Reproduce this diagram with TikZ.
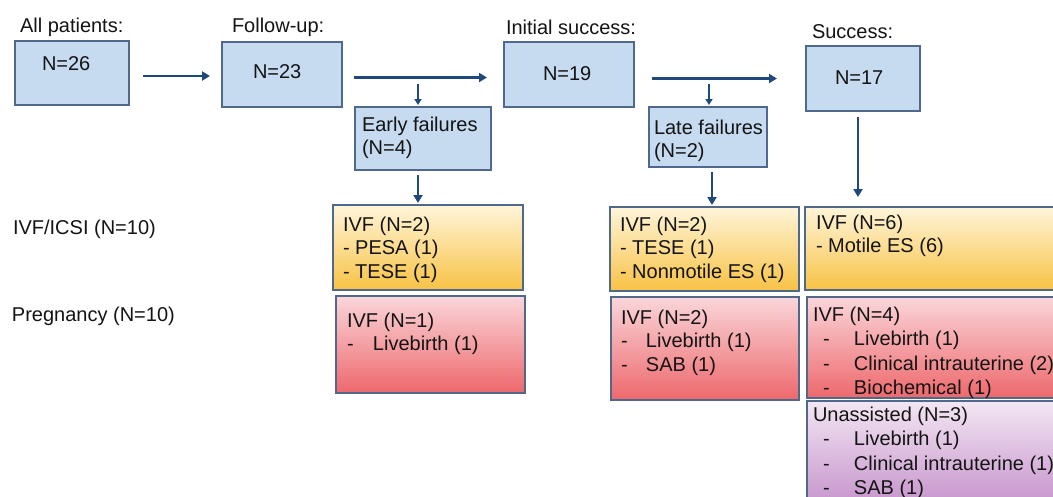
\documentclass[tikz,border=0pt]{standalone}
\usepackage{fontspec}
\setmainfont{Liberation Sans}
\usetikzlibrary{calc,arrows.meta}
\definecolor{bluef}{RGB}{198,218,240}
\definecolor{bordc}{RGB}{80,104,140}
\definecolor{arrc}{RGB}{31,73,125}
\definecolor{txtc}{RGB}{20,20,20}
\definecolor{ytop}{RGB}{255,245,218}
\definecolor{ymid}{RGB}{253,228,160}
\definecolor{ybot}{RGB}{248,194,68}
\definecolor{rtop}{RGB}{250,214,218}
\definecolor{rmid}{RGB}{245,170,175}
\definecolor{rbot}{RGB}{237,104,108}
\definecolor{ptop}{RGB}{243,230,243}
\definecolor{pmid}{RGB}{225,195,226}
\definecolor{pbot}{RGB}{198,148,204}
\newcommand{\dsh}[1]{\makebox[#1][l]{-}}
\begin{document}
\begin{tikzpicture}[x=1pt,y=-1pt,
  box/.style={draw=bordc, line width=1.4pt, anchor=north west, inner sep=0pt, outer sep=0pt},
  bluebox/.style={box, fill=bluef},
  ybox/.style={box, top color=ytop, middle color=ymid, bottom color=ybot},
  rbox/.style={box, top color=rtop, middle color=rmid, bottom color=rbot},
  pbox/.style={box, top color=ptop, middle color=pmid, bottom color=pbot},
  txt/.style={anchor=north west, inner sep=0pt, outer sep=0pt, align=left, text=txtc,
    font=\fontsize{20}{23.5}\selectfont},
  txtb/.style={txt, font=\fontsize{20}{24.5}\selectfont},
  arr/.style={draw=arrc, line width=2.6pt, -{Triangle[length=8pt,width=9pt]}},
  sarr/.style={draw=arrc, line width=2pt, -{Triangle[length=6pt,width=7pt]}},
]
\clip (0,0) rectangle (1053,496);
\fill[white] (0,0) rectangle (1053,496);

% headings
\node[txt] (hall) at (20,18) {All patients:};
\node[txt] (hfu) at (232,18) {Follow-up:};
\node[txt] (his) at (506,20) {Initial success:};
\node[txt] (hs) at (812,25) {Success:};

% blue boxes
\node[bluebox, minimum width=114pt, minimum height=64pt] (b26) at (15,41) {};
\node[bluebox, minimum width=120pt, minimum height=65pt] (b23) at (222,42) {};
\node[bluebox, minimum width=130pt, minimum height=65pt] (b19) at (504,42) {};
\node[bluebox, minimum width=114pt, minimum height=65pt] (b17) at (806,46) {};
\node[bluebox, minimum width=136pt, minimum height=63pt] (bef) at (355,107) {};
\node[bluebox, minimum width=118pt, minimum height=60pt] (blf) at (649,107) {};

\node[txt] (t26) at (42,57) {N=26};
\node[txt] (t23) at (253,65) {N=23};
\node[txt] (t19) at (543,67) {N=19};
\node[txt] (t17) at (835,71) {N=17};
\node[txt] (tef) at (362,117) {Early failures\\(N=4)};
\node[txt] (tlf) at (654,120) {Late failures\\(N=2)};

% row labels
\node[txt] (livf) at (13,220) {IVF/ICSI (N=10)};
\node[txt] (lpreg) at (12,307) {Pregnancy (N=10)};

% yellow boxes
\node[ybox, minimum width=190pt, minimum height=85pt] (y1) at (333,205) {};
\node[ybox, minimum width=189pt, minimum height=84pt] (y2) at (610,207) {};
\node[ybox, minimum width=260pt, minimum height=83pt] (y3) at (805,207) {};
\node[txt] (ty1) at (343,217) {IVF (N=2)\\- PESA (1)\\- TESE (1)};
\node[txt] (ty2) at (620,217) {IVF (N=2)\\- TESE (1)\\- Nonmotile ES (1)};
\node[txt] (ty3) at (816,215) {IVF (N=6)\\- Motile ES (6)};

% red boxes
\node[rbox, minimum width=189pt, minimum height=97pt] (r1) at (336,296) {};
\node[rbox, minimum width=188pt, minimum height=103pt] (r2) at (611,297) {};
\node[rbox, minimum width=258pt, minimum height=101pt] (r3) at (807,297) {};
\node[txt] (tr1) at (347,313) {IVF (N=1)\\\dsh{26pt}Livebirth (1)};
\node[txt] (tr2) at (621,310) {IVF (N=2)\\\dsh{25pt}Livebirth (1)\\\dsh{25pt}SAB (1)};
\node[txtb] (tr3) at (813,307) {IVF (N=4)\\\hspace*{10pt}\dsh{31pt}Livebirth (1)\\\hspace*{10pt}\dsh{31pt}Clinical intrauterine (2)\\\hspace*{10pt}\dsh{31pt}Biochemical (1)};

% purple box
\node[pbox, minimum width=258pt, minimum height=104pt] (p1) at (807,401) {};
\node[txtb] (tp1) at (813,407) {Unassisted (N=3)\\\hspace*{10pt}\dsh{31pt}Livebirth (1)\\\hspace*{10pt}\dsh{31pt}Clinical intrauterine (1)\\\hspace*{10pt}\dsh{31pt}SAB (1)};

% arrows
\draw[arr] ($(b26.east)+(14,3)$) -- ($(b23.west |- b26.east)+(-12,3)$);
\draw[arr] ($(b23.east)+(12,3)$) -- ($(b19.west |- b23.east)+(-17,3)$);
\draw[arr] ($(b19.east)+(18,4)$) -- ($(b17.west |- b19.east)+(-29,4)$);
\coordinate (ef0) at ($(bef.north west)+(63,-23)$);
\draw[sarr] (ef0) -- ($(bef.north west)+(63,-2)$);
\coordinate (lf0) at ($(blf.north west)+(60,-23)$);
\draw[sarr] (lf0) -- ($(blf.north west)+(60,-2)$);
\draw[arr] ($(bef.south west)+(63,5)$) -- ($(y1.north west)+(85,-2)$);
\draw[arr] ($(blf.south west)+(63,5)$) -- ($(y2.north west)+(102,-2)$);
\draw[arr] ($(b17.south west)+(52,6)$) -- ($(b17.south west)+(52,86)$);
\end{tikzpicture}
\end{document}
